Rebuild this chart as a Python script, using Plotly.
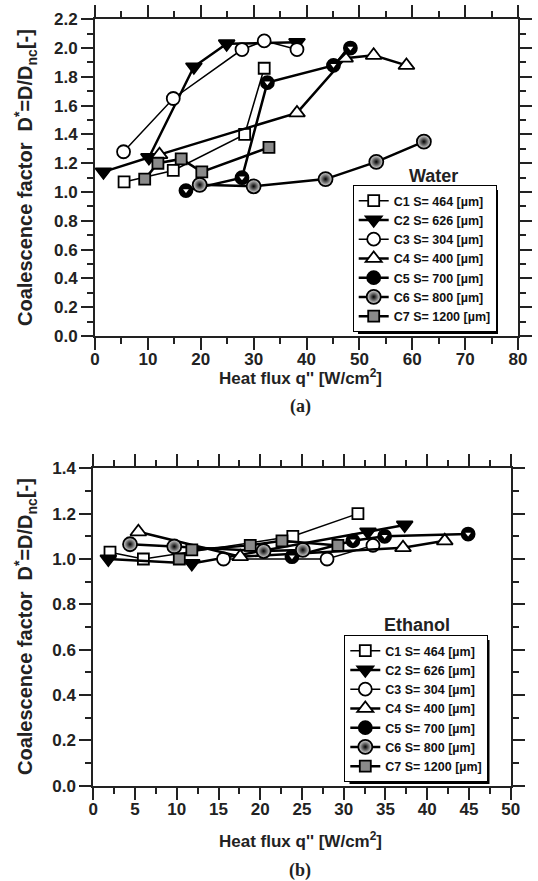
import plotly.graph_objects as go

W, H = 538, 881

# ---------------- data (a) Water ----------------
w_c1_x = [5.5, 14.8, 28.3, 32.0]
w_c1_y = [1.07, 1.15, 1.40, 1.86]
w_c2_x = [1.6, 10.2, 18.7, 24.9, 38.2]
w_c2_y = [1.14, 1.24, 1.87, 2.03, 2.04]
w_c3_x = [5.4, 14.8, 27.8, 32.0, 38.2]
w_c3_y = [1.28, 1.65, 1.99, 2.05, 1.99]
w_c4_x = [12.2, 38.2, 47.3, 52.7, 58.9]
w_c4_y = [1.26, 1.55, 1.93, 1.95, 1.88]
w_c5_x = [17.2, 27.8, 32.6, 45.1, 48.3]
w_c5_y = [1.01, 1.10, 1.76, 1.88, 2.00]
w_c6_x = [19.8, 30.0, 43.6, 53.2, 62.2]
w_c6_y = [1.05, 1.04, 1.09, 1.21, 1.35]
w_c7_x = [9.4, 11.9, 16.3, 20.2, 32.9]
w_c7_y = [1.09, 1.20, 1.23, 1.14, 1.31]

# ---------------- data (b) Ethanol ----------------
e_c1_x = [2.0, 6.0, 23.9, 31.7]
e_c1_y = [1.03, 1.00, 1.10, 1.20]
e_c2_x = [1.8, 11.8, 32.9, 37.3]
e_c2_y = [1.00, 0.98, 1.12, 1.15]
e_c3_x = [15.6, 28.0, 33.5]
e_c3_y = [1.00, 1.00, 1.06]
e_c4_x = [5.4, 17.6, 37.1, 42.1]
e_c4_y = [1.12, 1.01, 1.05, 1.08]
e_c5_x = [23.8, 31.1, 34.9, 44.9]
e_c5_y = [1.01, 1.08, 1.10, 1.11]
e_c6_x = [4.4, 9.7, 20.4, 25.1]
e_c6_y = [1.065, 1.055, 1.035, 1.04]
e_c7_x = [10.3, 11.8, 18.8, 22.6, 29.3]
e_c7_y = [1.00, 1.04, 1.06, 1.08, 1.06]

names = ["C1 S= 464 [\u00b5m]", "C2 S= 626 [\u00b5m]", "C3 S= 304 [\u00b5m]",
         "C4 S= 400 [\u00b5m]", "C5 S= 700 [\u00b5m]", "C6 S= 800 [\u00b5m]",
         "C7 S= 1200 [\u00b5m]"]

FONT = "Liberation Sans, Arial, sans-serif"

styles = [
    dict(symbol="square", color="white", size=11, lw=1.5),
    dict(symbol="triangle-down", color="black", size=14, lw=2.5),
    dict(symbol="circle", color="white", size=13, lw=1.5),
    dict(symbol="triangle-up", color="white", size=14, lw=2.5),
    dict(symbol="circle", color="black", size=13, lw=2.5),
    dict(symbol="circle", color="#e0e0e0", size=14, lw=2.5, grad=True),
    dict(symbol="square", color="#8a8a8a", size=11, lw=2.5),
]

fig = go.Figure()


def add_series(xs_list, ys_list, xa, ya, legend):
    for i, (xs, ys) in enumerate(zip(xs_list, ys_list)):
        st = styles[i]
        mk = dict(symbol=st["symbol"], color=st["color"], size=st["size"],
                  line=dict(color="black", width=1.8))
        if st.get("grad"):
            mk["gradient"] = dict(type="radial", color="black")
        fig.add_trace(go.Scatter(
            x=xs, y=ys, mode="lines+markers", name=names[i],
            xaxis=xa, yaxis=ya, legend=legend,
            line=dict(color="black", width=st["lw"]), marker=mk))
        if i == 4:
            fig.add_trace(go.Scatter(
                x=xs, y=ys, mode="markers", showlegend=False, xaxis=xa, yaxis=ya,
                marker=dict(symbol="triangle-down", color="white", size=5,
                            line=dict(width=0))))


add_series([w_c1_x, w_c2_x, w_c3_x, w_c4_x, w_c5_x, w_c6_x, w_c7_x],
           [w_c1_y, w_c2_y, w_c3_y, w_c4_y, w_c5_y, w_c6_y, w_c7_y],
           "x", "y", "legend")
add_series([e_c1_x, e_c2_x, e_c3_x, e_c4_x, e_c5_x, e_c6_x, e_c7_x],
           [e_c1_y, e_c2_y, e_c3_y, e_c4_y, e_c5_y, e_c6_y, e_c7_y],
           "x2", "y2", "legend2")

tickfont = dict(family=FONT, size=17, color="#222", weight="bold")


def axis(rng, dtick, mdtick, domain, anchor, fmt, standoff):
    return dict(range=rng, dtick=dtick, tick0=0, domain=domain, anchor=anchor,
                automargin=False,
                showgrid=False, zeroline=False, showline=True, linecolor="#222",
                linewidth=2, mirror="ticks", ticks="outside", ticklen=12,
                tickwidth=2, tickcolor="#222", tickfont=tickfont,
                tickformat=fmt, ticklabelstandoff=standoff,
                minor=dict(dtick=mdtick, tick0=0, ticks="outside", ticklen=6,
                           tickwidth=2, tickcolor="#222", showgrid=False))


LEG_FONT = dict(family=FONT, size=12.5, color="#111", weight="bold")

fig.update_layout(
    width=W, height=H, margin=dict(l=0, r=0, t=0, b=0, pad=0, autoexpand=False),
    paper_bgcolor="white", plot_bgcolor="white",
    xaxis=axis([0, 80], 10, 5, [95 / W, 518 / W], "y", "d", -5),
    yaxis=axis([0, 2.2], 0.2, 0.1, [1 - 336 / H, 1 - 19.3 / H], "x", ".1f", 0),
    xaxis2=axis([0, 50], 5, 2.5, [93.3 / W, 510.7 / W], "y2", "d", -5),
    yaxis2=axis([0, 1.4], 0.2, 0.1, [1 - 785.7 / H, 1 - 468.3 / H], "x2", ".1f", 0),
    legend=dict(x=352.7 / W, y=1 - 185 / H, xanchor="left", yanchor="top",
                bgcolor="white", bordercolor="black", borderwidth=1,
                font=LEG_FONT, tracegroupgap=0, itemwidth=30),
    legend2=dict(x=344.3 / W, y=1 - 635 / H, xanchor="left", yanchor="top",
                 bgcolor="white", bordercolor="black", borderwidth=1,
                 font=LEG_FONT, tracegroupgap=0, itemwidth=30),
    showlegend=True,
)

# legend shadows
fig.add_shape(type="rect", xref="paper", yref="paper", layer="above",
              x0=358 / W, x1=498 / W, y0=1 - 334 / H, y1=1 - 190 / H,
              fillcolor="black", line=dict(width=0))
fig.add_shape(type="rect", xref="paper", yref="paper", layer="above",
              x0=349.5 / W, x1=489.5 / W, y0=1 - 784 / H, y1=1 - 640 / H,
              fillcolor="black", line=dict(width=0))

tfont = dict(family=FONT, size=18, color="#222", weight="bold")
yt = "Coalescence factor  D<sup>*</sup>=D/D<sub>nc</sub>[-]"
xt = "Heat flux q'' [W/cm<sup>2</sup>]"
ann = [
    dict(text=yt, x=25 / W, y=1 - 178 / H, textangle=-90, font=dict(tfont, size=20)),
    dict(text=yt, x=25 / W, y=1 - 627 / H, textangle=-90, font=dict(tfont, size=20)),
    dict(text=xt, x=300 / W, y=1 - 377 / H, font=dict(tfont, size=17)),
    dict(text=xt, x=300 / W, y=1 - 840 / H, font=dict(tfont, size=17)),
    dict(text="(a)", x=300 / W, y=1 - 407 / H,
         font=dict(family="Liberation Serif, Times New Roman", size=18, color="#222", weight="bold")),
    dict(text="(b)", x=300 / W, y=1 - 870 / H,
         font=dict(family="Liberation Serif, Times New Roman", size=18, color="#222", weight="bold")),
    dict(text="Water", x=433 / W, y=1 - 176 / H, font=dict(tfont, size=18)),
    dict(text="Ethanol", x=416.7 / W, y=1 - 625 / H, font=dict(tfont, size=18)),
]
for a in ann:
    a.update(xref="paper", yref="paper", showarrow=False, xanchor="center", yanchor="middle")
    fig.add_annotation(**a)

fig.write_html("out.html",
               post_script="document.body.style.margin='0px';document.body.style.overflow='hidden';")
